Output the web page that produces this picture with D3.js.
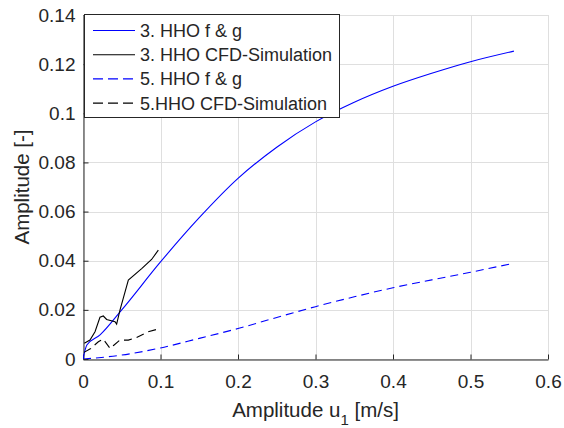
<html>
<head>
<meta charset="utf-8">
<style>
  body { margin: 0; background: #fff; }
  text { font-family: "Liberation Sans", Arial, sans-serif; fill: #262626; }
</style>
</head>
<body>
<div id="chart"></div>
<script src="https://d3js.org/d3.v7.min.js"></script>
<script>
// 3. HHO f & g
var hho3_fg_x = [0, 0.005, 0.022, 0.05, 0.1, 0.15, 0.2, 0.25, 0.3, 0.35, 0.4, 0.45, 0.5, 0.556];
var hho3_fg_y = [0, 0.0057, 0.0098, 0.02, 0.0395, 0.0575, 0.0735, 0.0862, 0.0965, 0.1045, 0.111, 0.1163, 0.121, 0.1253];
// 3. HHO CFD-Simulation
var hho3_cfd_x = [0.0017, 0.009, 0.0155, 0.0219, 0.0262, 0.0305, 0.0413, 0.0434, 0.0477, 0.0585, 0.0757, 0.0885, 0.0972];
var hho3_cfd_y = [0.0064, 0.0077, 0.0111, 0.017, 0.0175, 0.0161, 0.0152, 0.0142, 0.0199, 0.0321, 0.0368, 0.0405, 0.0443];
// 5. HHO f & g
var hho5_fg_x = [0, 0.05, 0.1, 0.15, 0.2, 0.25, 0.3, 0.35, 0.4, 0.45, 0.5, 0.556];
var hho5_fg_y = [0, 0.0016, 0.0045, 0.0084, 0.0124, 0.0169, 0.0213, 0.0253, 0.029, 0.0322, 0.0353, 0.039];
// 5.HHO CFD-Simulation
var hho5_cfd_x = [0.0013, 0.01, 0.0198, 0.026, 0.035, 0.039, 0.0477, 0.0585, 0.069, 0.084, 0.097];
var hho5_cfd_y = [0.0027, 0.0043, 0.007, 0.0081, 0.0043, 0.0054, 0.0077, 0.0077, 0.0087, 0.0111, 0.0122];

var xTicks = [0, 0.1, 0.2, 0.3, 0.4, 0.5, 0.6];
var yTicks = [0, 0.02, 0.04, 0.06, 0.08, 0.1, 0.12, 0.14];
var legendLabels = ["3. HHO f & g", "3. HHO CFD-Simulation", "5. HHO f & g", "5.HHO CFD-Simulation"];

var width = 564, height = 428;
var margin = {top: 15, right: 16, bottom: 69, left: 83};

var svg = d3.select("#chart").append("svg")
  .attr("width", width).attr("height", height);

var x = d3.scaleLinear().domain([0, 0.6]).range([margin.left, width - margin.right]);
var y = d3.scaleLinear().domain([0, 0.14]).range([height - margin.bottom, margin.top]);

// grid
var grid = svg.append("g").attr("stroke", "#dfdfdf").attr("stroke-width", 1);
grid.selectAll(".gx").data(xTicks).enter().append("line")
  .attr("x1", d => Math.round(x(d)) + 0.5).attr("x2", d => Math.round(x(d)) + 0.5)
  .attr("y1", y(0)).attr("y2", y(0.14));
grid.selectAll(".gy").data(yTicks).enter().append("line")
  .attr("y1", d => Math.round(y(d)) + 0.5).attr("y2", d => Math.round(y(d)) + 0.5)
  .attr("x1", x(0)).attr("x2", x(0.6));

// axes
var fmt = d => String(+d.toFixed(2));
var xAxis = d3.axisBottom(x).tickValues(xTicks).tickSizeInner(-5).tickSizeOuter(0).tickPadding(15).tickFormat(fmt);
var yAxis = d3.axisLeft(y).tickValues(yTicks).tickSizeInner(-5).tickSizeOuter(0).tickPadding(8).tickFormat(fmt);

var gx = svg.append("g").attr("transform", "translate(0," + (Math.round(y(0)) + 0.5) + ")").call(xAxis);
var gy = svg.append("g").attr("transform", "translate(" + (Math.round(x(0)) + 0.5) + ",0)").call(yAxis);
[gx, gy].forEach(function(g) {
  g.select(".domain").attr("stroke", "#262626");
  g.selectAll(".tick line").attr("stroke", "#262626");
  g.selectAll(".tick text").attr("font-size", 19).attr("fill", "#262626")
    .attr("font-family", "'Liberation Sans', Arial, sans-serif");
});

// lines
svg.append("clipPath").attr("id", "clip").append("rect")
  .attr("x", x(0)).attr("y", y(0.14)).attr("width", x(0.6) - x(0)).attr("height", y(0) - y(0.14));

function pts(xs, ys) { return xs.map((v, i) => [v, ys[i]]); }
var smooth = d3.line().x(d => x(d[0])).y(d => y(d[1])).curve(d3.curveMonotoneX);
var straight = d3.line().x(d => x(d[0])).y(d => y(d[1]));

var series = [
  {data: pts(hho3_fg_x, hho3_fg_y), color: "#0000ff", dash: null, gen: smooth},
  {data: pts(hho3_cfd_x, hho3_cfd_y), color: "#000000", dash: null, gen: straight},
  {data: pts(hho5_fg_x, hho5_fg_y), color: "#0000ff", dash: "8,5", gen: smooth},
  {data: pts(hho5_cfd_x, hho5_cfd_y), color: "#000000", dash: "8,5", gen: straight}
];

var plot = svg.append("g").attr("clip-path", "url(#clip)");
series.forEach(function(s) {
  plot.append("path").datum(s.data)
    .attr("d", s.gen)
    .attr("fill", "none")
    .attr("stroke", s.color)
    .attr("stroke-width", 1.1)
    .attr("stroke-dasharray", s.dash);
});

// axis labels
var xl = svg.append("text").attr("x", (x(0) + x(0.6)) / 2).attr("y", 417).attr("font-size", 20.5)
  .attr("text-anchor", "middle");
xl.append("tspan").text("Amplitude u");
xl.append("tspan").attr("font-size", 15).attr("dy", 8).text("1");
xl.append("tspan").attr("dy", -8).text("\u00a0[m/s]");

svg.append("text").attr("transform", "translate(29," + (y(0) + y(0.14)) / 2 + ") rotate(-90)")
  .attr("font-size", 20.5).attr("text-anchor", "middle").text("Amplitude [-]");

// legend
var lg = svg.append("g").attr("transform", "translate(84,14)");
lg.append("rect").attr("x", 0.5).attr("y", 0.5).attr("width", 255).attr("height", 103)
  .attr("fill", "#fff").attr("stroke", "#262626").attr("stroke-width", 1);
legendLabels.forEach(function(lbl, i) {
  var cy = 16.5 + i * 24.2;
  lg.append("line").attr("x1", 9).attr("x2", 51).attr("y1", cy).attr("y2", cy)
    .attr("stroke", series[i].color).attr("stroke-width", 1.1)
    .attr("stroke-dasharray", series[i].dash ? "10,5" : null);
  lg.append("text").attr("x", 56).attr("y", cy + 6.5).attr("font-size", 18).text(lbl);
});
</script>
</body>
</html>
